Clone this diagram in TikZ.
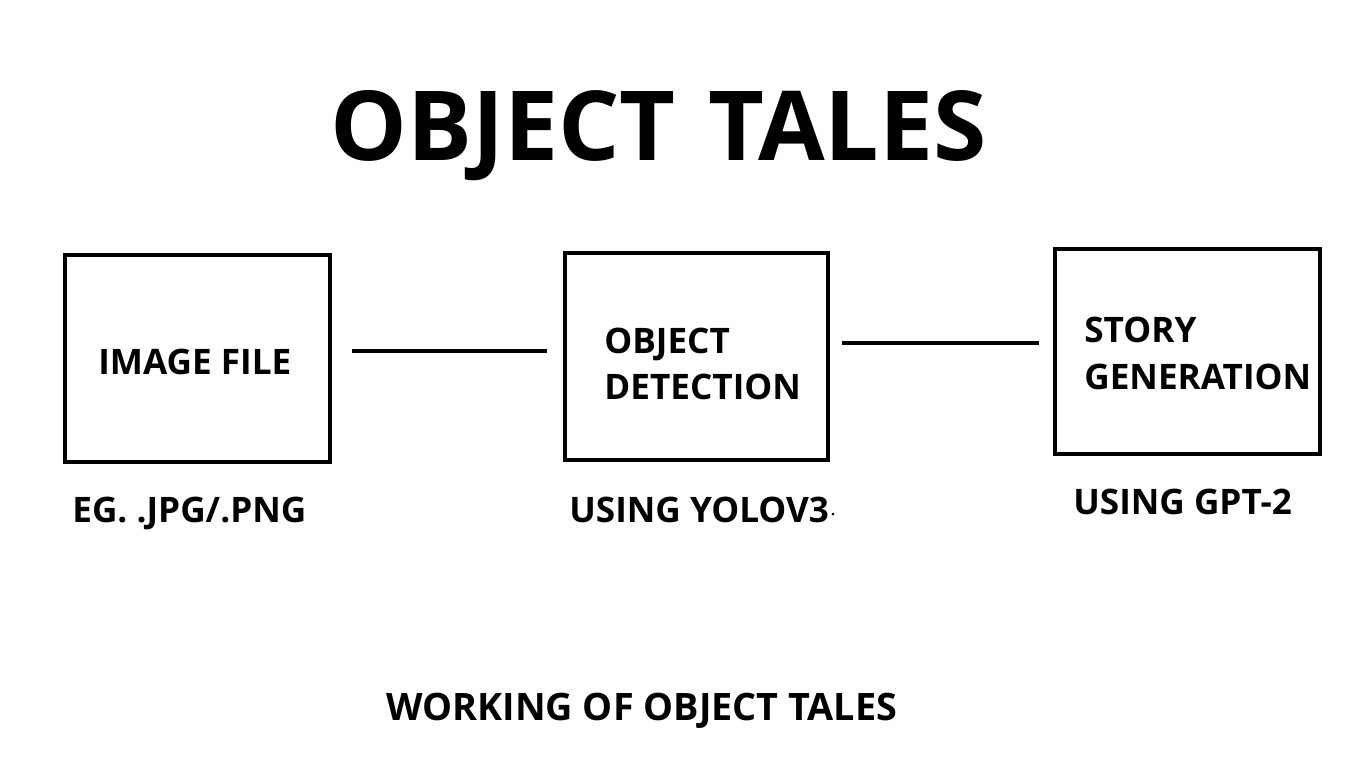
\documentclass[tikz,border=0pt]{standalone}
\usepackage{fontspec}
\setmainfont{Open Sans}
\tikzset{
  box/.style={draw, line width=2.3pt, minimum width=5.3cm, minimum height=4.14cm, inner sep=0},
  lbl/.style={anchor=base west, inner sep=0, font=\bfseries\fontsize{20}{24}\selectfont},
  link/.style={line width=2.3pt}
}
\begin{document}
\begin{tikzpicture}[x=0.02cm, y=-0.02cm]

\useasboundingbox (0,0) rectangle (1370,768);

\node[anchor=base west, inner sep=0, font=\bfseries\fontsize{55}{60}\selectfont] (title) at (330,160) {OBJECT\hspace{0.66cm}TALES};

\node[box] (imgbox) at (197.5,358.5) {};
\node[box, minimum width=5.26cm] (detbox) at (696.5,356.5) {};
\node[box, minimum height=4.1cm] (storybox) at (1187.5,351.5) {};

\node[lbl] (imgtxt) at (98,374) {IMAGE FILE};
\node[lbl] (dettxta) at (604,353) {OBJECT};
\node[lbl] (dettxtb) at (604,399) {DETECTION};
\node[lbl] (storytxta) at (1084,342) {STORY};
\node[lbl] (storytxtb) at (1084,389) {GENERATION};

\node[lbl] (imgnote) at (72,522) {EG. .JPG/.PNG};
\node[lbl] (detnote) at (569,522) {USING YOLOV3};
\node[lbl] (storynote) at (1073,514) {USING GPT-2};
\fill (833,514) circle (1.5);

\coordinate (l1a) at (352,351);
\coordinate (l1b) at (547,351);
\coordinate (l2a) at (842,343);
\coordinate (l2b) at (1039,343);
\draw[link] (l1a) -- (l1b);
\draw[link] (l2a) -- (l2b);

\node[lbl, font=\bfseries\fontsize{21.5}{24}\selectfont] (caption) at (386,720) {WORKING OF OBJECT TALES};

\end{tikzpicture}
\end{document}
